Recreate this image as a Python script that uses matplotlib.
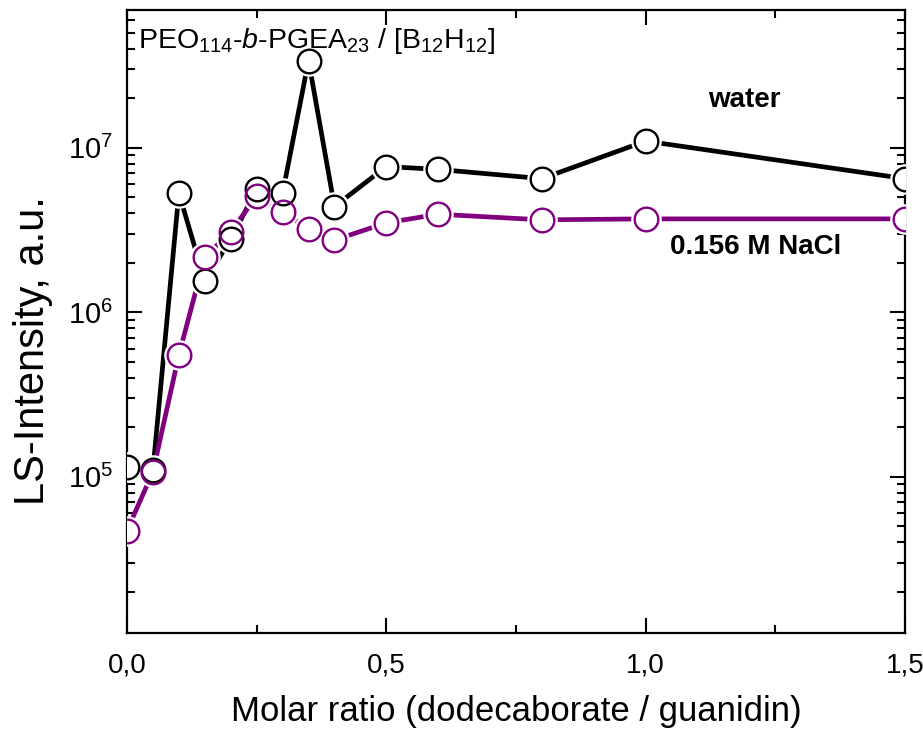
import matplotlib
matplotlib.use("Agg")
import matplotlib.pyplot as plt
import matplotlib.ticker as mticker

plt.rcParams['font.family'] = ['Liberation Sans', 'DejaVu Sans']
plt.rcParams['mathtext.fontset'] = 'custom'
plt.rcParams['mathtext.rm'] = 'Liberation Sans'
plt.rcParams['mathtext.it'] = 'Liberation Sans:italic'
plt.rcParams['mathtext.bf'] = 'Liberation Sans:bold'

# molar ratio (dodecaborate / guanidin)
ratio = [0.0, 0.05, 0.1, 0.15, 0.2, 0.25, 0.3, 0.35, 0.4, 0.5, 0.6, 0.8, 1.0, 1.5]
# LS intensity, a.u.
water = [1.15e5, 1.1e5, 5.3e6, 1.55e6, 2.78e6, 5.6e6, 5.3e6, 3.4e7, 4.4e6,
         7.7e6, 7.4e6, 6.5e6, 1.1e7, 6.5e6]
nacl = [4.7e4, 1.07e5, 5.5e5, 2.17e6, 3.08e6, 5.1e6, 4.1e6, 3.2e6, 2.75e6,
        3.5e6, 3.95e6, 3.65e6, 3.7e6, 3.7e6]

xticks = [0.0, 0.5, 1.0, 1.5]
xticklabels = ['0,0', '0,5', '1,0', '1,5']

purple = '#800080'

fig = plt.figure(figsize=(9.23, 7.29), dpi=100)
ax = fig.add_axes([0.1376, 0.1317, 0.8429, 0.8546])

series = [(water, 'black'), (nacl, purple)]
for vals, col in series:
    ax.plot(ratio, vals, '-', color=col, lw=3.4, zorder=2)
for vals, col in series:
    ax.plot(ratio, vals, 'o', ms=22, mfc='white', mec='white', mew=0, zorder=3)
for vals, col in series:
    ax.plot(ratio, vals, 'o', ms=17, mfc='none', mec=col, mew=1.7, zorder=4)

ax.set_yscale('log')
ax.set_xlim(0, 1.5)
ax.set_ylim(1.12e4, 6.9e7)

ax.set_xticks(xticks)
ax.set_xticklabels(xticklabels)
ax.xaxis.set_minor_locator(mticker.MultipleLocator(0.25))
ax.yaxis.set_major_locator(mticker.FixedLocator([1e5, 1e6, 1e7]))
ax.yaxis.set_minor_locator(mticker.LogLocator(base=10, subs=range(2, 10)))
ax.yaxis.set_minor_formatter(mticker.NullFormatter())

ax.tick_params(which='both', direction='in', top=True, right=True, width=1.5)
ax.tick_params(which='major', length=11, labelsize=20, pad=14)
ax.tick_params(axis='y', which='major', labelsize=21, pad=10)
ax.tick_params(which='minor', length=6)
for s in ax.spines.values():
    s.set_linewidth(1.6)

ax.set_xlabel('Molar ratio (dodecaborate / guanidin)', fontsize=25, labelpad=12)
ax.set_ylabel('LS-Intensity, a.u.', fontsize=30, labelpad=11, y=0.454)

ax.text(0.014, 0.975, r'PEO$_{114}$-$\mathit{b}$-PGEA$_{23}$ / [B$_{12}$H$_{12}$]',
        transform=ax.transAxes, fontsize=20.5, va='top', ha='left')
ax.text(0.794, 0.856, 'water', transform=ax.transAxes, fontsize=20,
        fontweight='bold', ha='center', va='center')
ax.text(0.808, 0.62, '0.156 M NaCl', transform=ax.transAxes, fontsize=20,
        fontweight='bold', ha='center', va='center')

fig.savefig('out.png', dpi=100)
